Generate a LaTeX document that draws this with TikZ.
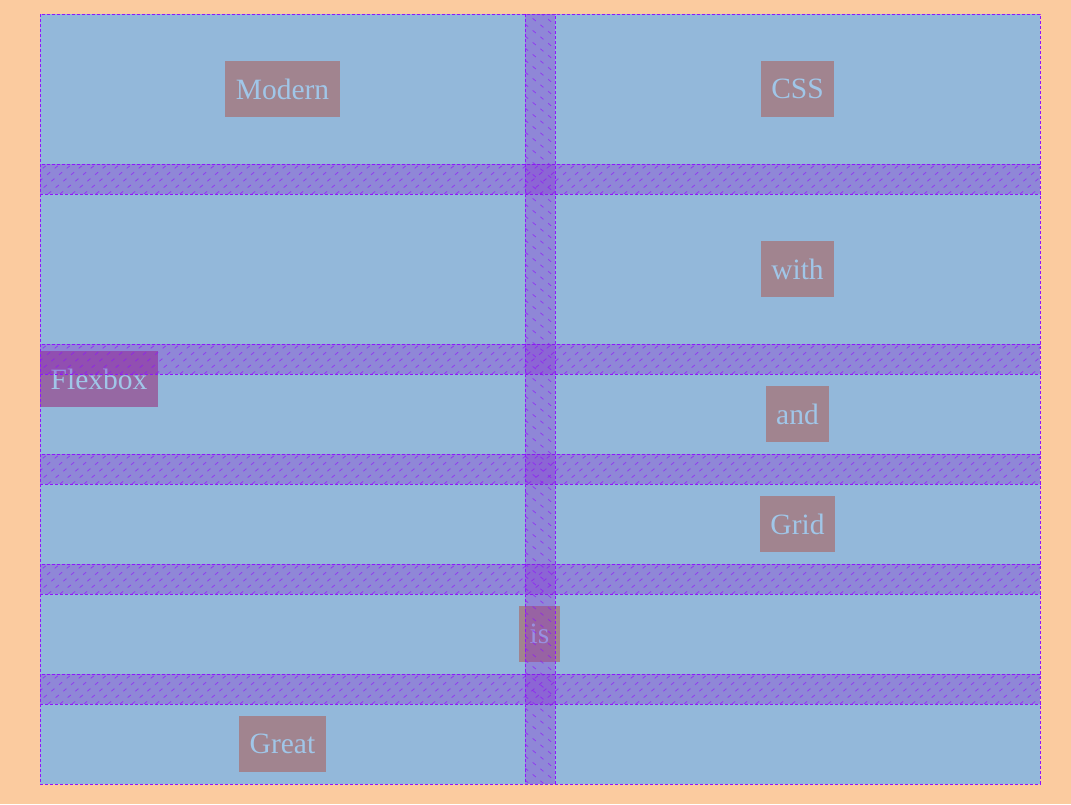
\documentclass[tikz,border=0pt]{standalone}
\usepackage{fontspec}
\setmainfont{Liberation Serif}
\definecolor{peach}{HTML}{FBCB9F}
\definecolor{cellblue}{HTML}{93B8DA}
\definecolor{gridpurple}{HTML}{9013FE}
\definecolor{gapcolor}{HTML}{8618D3}
\definecolor{boxfill}{HTML}{A1848F}
\definecolor{flexfill}{HTML}{9668A3}
\definecolor{textblue}{HTML}{A0C6E8}
\tikzset{
  item/.style={fill=boxfill, text=textblue, inner sep=0pt, minimum height=56pt, font=\fontsize{29.5}{32}\selectfont},
  gapfill/.style={fill=gapcolor, fill opacity=0.3},
  hatch/.style={draw=gridpurple, draw opacity=0.65, line width=0.8pt, dash pattern=on 4pt off 6pt},
  gapline/.style={draw=gridpurple, line width=0.8pt, dash pattern=on 3pt off 2pt},
}
\begin{document}
\begin{tikzpicture}[x=1pt,y=-1pt]
\useasboundingbox (0,0) rectangle (1071,804);
\fill[peach] (0,0) rectangle (1071,804);
\fill[cellblue] (40,14) rectangle (1040,784);
% items
\node[item, minimum width=115pt] (modern) at (282.5,89) {Modern};
\node[item, minimum width=73pt] (css) at (797.5,89) {CSS};
\node[item, minimum width=73pt] (with) at (797.5,269) {with};
\node[item, fill=flexfill, minimum width=118pt] (flexbox) at (99,379) {Flexbox};
\node[item, minimum width=63pt] (and) at (797.5,414) {and};
\node[item, minimum width=75pt] (grid) at (797.5,524) {Grid};
\node[item, minimum width=41pt] (is) at (539.5,634) {is};
\node[item, minimum width=87pt] (great) at (282.5,744) {Great};
% row gaps
\foreach \y in {164,344,454,564,674}{
  \fill[gapfill] (40,\y) rectangle (1040,\y+30);
  \begin{scope}
    \clip (40,\y) rectangle (1040,\y+30);
    \foreach \i in {0,12,...,1044}{
      \draw[hatch] (\i,\y+30) -- ++(36,-30);
    }
  \end{scope}
  \draw[gapline] (40,\y) rectangle (1040,\y+30);
}
% column gap
\fill[gapfill] (525,14) rectangle (555,784);
\begin{scope}
  \clip (525,14) rectangle (555,784);
  \foreach \j in {-24,-12,...,792}{
    \draw[hatch] (525,\j) -- ++(30,25);
  }
\end{scope}
\draw[gapline] (525,14) rectangle (555,784);
% outer border
\draw[gapline] (40,14) rectangle (1040,784);
\end{tikzpicture}
\end{document}
